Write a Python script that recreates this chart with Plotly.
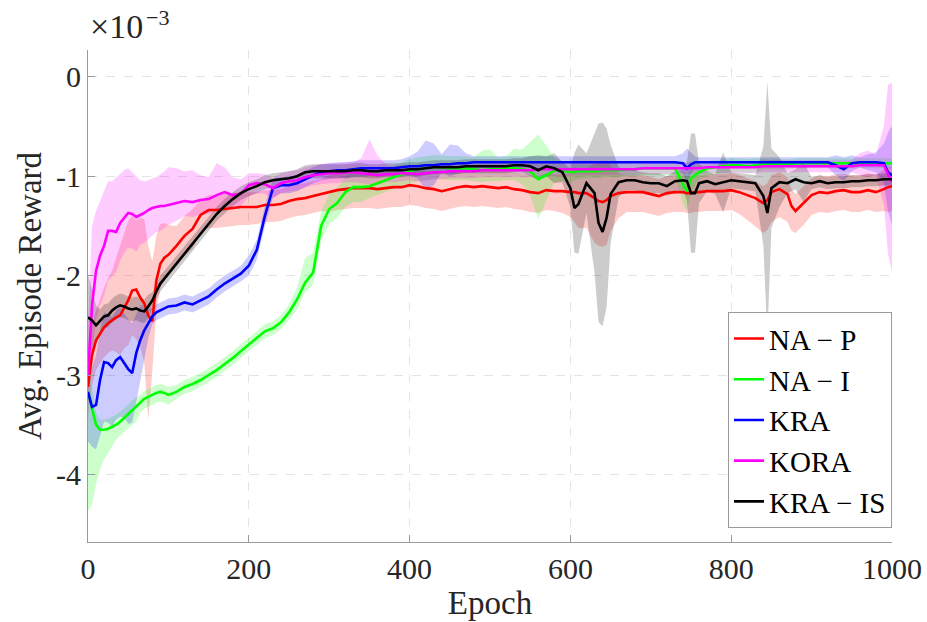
import plotly.graph_objects as go

# ---------------- data (rewards in units of 1e-3) ----------------
epochs = ([0, 5, 10, 15, 20, 25, 30, 35, 40, 45, 50, 55, 60, 65, 70, 75, 80, 85, 90, 95, 100]
          + [110, 120, 130, 140, 150, 160, 170, 180, 190, 200, 210, 220, 230, 240, 250, 260, 270, 280, 290, 300,
             310, 320, 330, 340, 350, 360, 370, 380, 390, 400, 410, 420, 430, 440, 450, 460, 470, 480, 490, 500,
             510, 520, 530, 540, 550, 560, 570, 580, 590, 600]
          + [605, 610, 620, 630, 635, 640, 645, 650, 660, 670, 680, 690, 700, 710, 720, 730, 740, 745, 750, 755,
             760, 770, 780, 790, 800, 810, 820, 830, 840, 845, 850, 860, 870, 875, 880, 890, 900, 910, 920, 930,
             940, 950, 960, 970, 980, 990, 995, 1000])

# NA - P
na_p = ([-3.12, -2.80, -2.65, -2.58, -2.52, -2.48, -2.45, -2.42, -2.40, -2.33, -2.25, -2.15, -2.14, -2.22, -2.28,
         -2.40, -2.46, -2.05, -1.88, -1.82, -1.79]
        + [-1.70, -1.60, -1.53, -1.39, -1.34, -1.34, -1.33, -1.32, -1.31, -1.31, -1.31, -1.29, -1.29, -1.28, -1.25,
           -1.23, -1.22, -1.20, -1.18, -1.16, -1.14, -1.13, -1.12, -1.12, -1.12, -1.13, -1.12, -1.11, -1.11, -1.09,
           -1.10, -1.12, -1.13, -1.15, -1.13, -1.11, -1.10, -1.11, -1.10, -1.11, -1.12, -1.11, -1.13, -1.14, -1.16,
           -1.17, -1.14, -1.15, -1.15, -1.16]
        + [-1.16, -1.17, -1.17, -1.22, -1.25, -1.26, -1.24, -1.20, -1.17, -1.16, -1.16, -1.16, -1.18, -1.20, -1.17,
           -1.16, -1.16, -1.17, -1.17, -1.16, -1.16, -1.15, -1.15, -1.15, -1.14, -1.16, -1.19, -1.22, -1.27, -1.24,
           -1.16, -1.13, -1.18, -1.30, -1.35, -1.27, -1.19, -1.16, -1.17, -1.15, -1.14, -1.16, -1.16, -1.14, -1.16,
           -1.13, -1.11, -1.10])
na_p_up = ([0.25, 0.30, 0.30, 0.35, 0.40, 0.45, 0.50, 0.60, 0.70, 0.75, 0.80, 0.75, 0.70, 0.80, 0.85, 0.70, 0.60,
            0.45, 0.40, 0.35, 0.30]
           + [0.20, 0.20, 0.20, 0.15, 0.15, 0.15, 0.15, 0.15, 0.15, 0.15, 0.15, 0.15, 0.15, 0.15, 0.15, 0.15, 0.15,
              0.15, 0.15, 0.17, 0.17, 0.17, 0.17, 0.17, 0.17, 0.17, 0.17, 0.17, 0.17, 0.17, 0.17, 0.17, 0.17, 0.17,
              0.17, 0.17, 0.17, 0.17, 0.17, 0.17, 0.17, 0.17, 0.17, 0.17, 0.17, 0.17, 0.17, 0.17, 0.17, 0.20]
           + [0.25, 0.25, 0.25, 0.35, 0.40, 0.40, 0.40, 0.30, 0.20, 0.17, 0.17, 0.17, 0.17, 0.17, 0.17, 0.17, 0.17,
              0.17, 0.17, 0.17, 0.17, 0.17, 0.17, 0.17, 0.17, 0.17, 0.17, 0.17, 0.17, 0.17, 0.17, 0.17, 0.17, 0.17,
              0.17, 0.17, 0.17, 0.17, 0.17, 0.17, 0.17, 0.17, 0.17, 0.17, 0.17, 0.20, 0.20, 0.20])
na_p_dn = ([0.30, 0.30, 0.30, 0.30, 0.30, 0.30, 0.30, 0.35, 0.40, 0.40, 0.45, 0.45, 0.50, 0.50, 0.60, 1.05, 0.50,
            0.30, 0.25, 0.20, 0.20]
           + [0.20, 0.20, 0.20, 0.18, 0.18, 0.18, 0.18, 0.18, 0.18, 0.18, 0.17, 0.17, 0.17, 0.17, 0.17, 0.17, 0.17,
              0.17, 0.17, 0.20, 0.20, 0.20, 0.20, 0.20, 0.20, 0.20, 0.20, 0.20, 0.20, 0.20, 0.20, 0.20, 0.20, 0.20,
              0.20, 0.20, 0.20, 0.20, 0.20, 0.20, 0.20, 0.20, 0.20, 0.20, 0.20, 0.20, 0.20, 0.20, 0.22, 0.25]
           + [0.30, 0.35, 0.35, 0.45, 0.45, 0.45, 0.45, 0.35, 0.25, 0.20, 0.20, 0.20, 0.20, 0.20, 0.20, 0.20, 0.20,
              0.20, 0.20, 0.20, 0.20, 0.20, 0.20, 0.20, 0.20, 0.22, 0.25, 0.28, 0.30, 0.30, 0.30, 0.28, 0.28, 0.25,
              0.22, 0.22, 0.20, 0.20, 0.20, 0.20, 0.20, 0.20, 0.20, 0.20, 0.20, 0.22, 0.25, 0.25])

# NA - I
na_i = ([-3.17, -3.35, -3.50, -3.55, -3.55, -3.54, -3.52, -3.50, -3.47, -3.43, -3.39, -3.35, -3.32, -3.28, -3.24,
         -3.22, -3.20, -3.18, -3.17, -3.18, -3.20]
        + [-3.17, -3.12, -3.09, -3.05, -3.00, -2.95, -2.89, -2.83, -2.76, -2.69, -2.63, -2.56, -2.53, -2.47, -2.37,
           -2.24, -2.07, -1.97, -1.50, -1.33, -1.27, -1.16, -1.11, -1.11, -1.10, -1.07, -1.04, -1.01, -0.98, -0.95,
           -0.93, -0.92, -0.91, -0.91, -0.92, -0.92, -0.92, -0.93, -0.94, -0.93, -0.93, -0.92, -0.92, -0.93, -0.95,
           -1.03, -0.99, -0.94, -0.95, -0.96]
        + [-0.96, -0.95, -0.95, -0.95, -0.95, -0.94, -0.94, -0.94, -0.94, -0.93, -0.93, -0.92, -0.92, -0.92, -0.92,
           -0.92, -1.08, -1.15, -1.02, -0.99, -0.96, -0.92, -0.91, -0.90, -0.89, -0.89, -0.90, -0.89, -0.88, -0.88,
           -0.88, -0.88, -0.88, -0.88, -0.87, -0.87, -0.87, -0.87, -0.87, -0.87, -0.87, -0.87, -0.87, -0.87, -0.87,
           -0.87, -0.87, -0.87])
na_i_up = ([0.30, 0.20, 0.12, 0.10, 0.10, 0.10, 0.10, 0.10, 0.10, 0.10, 0.10, 0.10, 0.10, 0.08, 0.08, 0.08, 0.08,
            0.08, 0.08, 0.08, 0.08]
           + [0.07, 0.07, 0.07, 0.07, 0.07, 0.07, 0.07, 0.07, 0.07, 0.07, 0.07, 0.07, 0.07, 0.07, 0.08, 0.12, 0.25,
              0.20, 0.15, 0.15, 0.15, 0.15, 0.15, 0.15, 0.12, 0.12, 0.12, 0.12, 0.12, 0.12, 0.12, 0.12, 0.12, 0.12,
              0.12, 0.12, 0.12, 0.12, 0.20, 0.20, 0.12, 0.12, 0.20, 0.20, 0.30, 0.45, 0.30, 0.12, 0.10, 0.10]
           + [0.08, 0.08, 0.07, 0.07, 0.07, 0.07, 0.07, 0.07, 0.07, 0.07, 0.07, 0.07, 0.07, 0.07, 0.07, 0.07, 0.15,
              0.15, 0.15, 0.10, 0.07, 0.07, 0.07, 0.07, 0.07, 0.07, 0.07, 0.07, 0.05, 0.05, 0.05, 0.05, 0.05, 0.05,
              0.05, 0.05, 0.05, 0.05, 0.05, 0.05, 0.05, 0.05, 0.05, 0.05, 0.05, 0.05, 0.05, 0.05])
na_i_dn = ([1.20, 0.95, 0.60, 0.40, 0.30, 0.25, 0.20, 0.15, 0.15, 0.15, 0.15, 0.15, 0.15, 0.10, 0.10, 0.10, 0.10,
            0.10, 0.10, 0.10, 0.10]
           + [0.07, 0.07, 0.07, 0.07, 0.07, 0.07, 0.07, 0.07, 0.07, 0.07, 0.07, 0.07, 0.07, 0.07, 0.08, 0.10, 0.10,
              0.12, 0.15, 0.15, 0.15, 0.15, 0.15, 0.15, 0.12, 0.12, 0.12, 0.12, 0.12, 0.12, 0.12, 0.12, 0.12, 0.12,
              0.12, 0.12, 0.12, 0.12, 0.12, 0.12, 0.12, 0.12, 0.12, 0.15, 0.25, 0.40, 0.25, 0.12, 0.10, 0.10]
           + [0.08, 0.08, 0.07, 0.07, 0.07, 0.07, 0.07, 0.07, 0.07, 0.07, 0.07, 0.07, 0.07, 0.07, 0.07, 0.07, 0.20,
              0.20, 0.15, 0.10, 0.07, 0.07, 0.07, 0.07, 0.07, 0.07, 0.07, 0.07, 0.05, 0.05, 0.05, 0.05, 0.05, 0.05,
              0.05, 0.05, 0.05, 0.05, 0.05, 0.05, 0.05, 0.05, 0.05, 0.05, 0.05, 0.05, 0.05, 0.05])

# KRA
kra = ([-3.17, -3.32, -3.30, -3.05, -2.87, -2.88, -2.92, -2.85, -2.82, -2.88, -2.94, -2.98, -2.78, -2.65, -2.55,
        -2.48, -2.41, -2.37, -2.35, -2.33, -2.31]
       + [-2.30, -2.27, -2.29, -2.25, -2.21, -2.14, -2.08, -2.03, -1.98, -1.90, -1.74, -1.40, -1.12, -1.09, -1.09,
          -1.07, -1.03, -0.99, -0.96, -0.95, -0.94, -0.94, -0.93, -0.92, -0.92, -0.92, -0.92, -0.92, -0.91, -0.90,
          -0.90, -0.89, -0.89, -0.88, -0.88, -0.87, -0.87, -0.86, -0.86, -0.86, -0.86, -0.86, -0.86, -0.86, -0.86,
          -0.86, -0.86, -0.86, -0.86, -0.86]
       + [-0.86, -0.86, -0.86, -0.86, -0.86, -0.86, -0.86, -0.86, -0.86, -0.86, -0.86, -0.86, -0.86, -0.86, -0.86,
          -0.86, -0.87, -0.92, -0.88, -0.86, -0.86, -0.86, -0.86, -0.86, -0.86, -0.86, -0.86, -0.86, -0.86, -0.86,
          -0.86, -0.86, -0.86, -0.86, -0.86, -0.86, -0.86, -0.86, -0.86, -0.89, -0.93, -0.87, -0.86, -0.86, -0.86,
          -0.87, -0.96, -0.99])
kra_up = ([0.20, 0.40, 0.50, 0.50, 0.50, 0.50, 0.50, 0.50, 0.50, 0.50, 0.50, 0.50, 0.40, 0.35, 0.25, 0.15, 0.08,
           0.08, 0.08, 0.08, 0.08]
          + [0.08, 0.08, 0.08, 0.08, 0.08, 0.08, 0.08, 0.08, 0.08, 0.10, 0.10, 0.10, 0.10, 0.08, 0.08, 0.08, 0.08,
             0.08, 0.08, 0.08, 0.08, 0.08, 0.08, 0.08, 0.08, 0.08, 0.08, 0.08, 0.08, 0.10, 0.15, 0.25, 0.22, 0.10,
             0.20, 0.18, 0.10, 0.06, 0.06, 0.06, 0.06, 0.06, 0.06, 0.06, 0.06, 0.06, 0.06, 0.06, 0.06, 0.06]
          + [0.06, 0.06, 0.06, 0.06, 0.06, 0.06, 0.06, 0.06, 0.06, 0.06, 0.06, 0.06, 0.06, 0.06, 0.06, 0.06, 0.10,
             0.20, 0.12, 0.06, 0.05, 0.05, 0.05, 0.05, 0.05, 0.05, 0.05, 0.05, 0.05, 0.05, 0.05, 0.05, 0.05, 0.05,
             0.05, 0.05, 0.05, 0.05, 0.05, 0.10, 0.12, 0.08, 0.05, 0.08, 0.10, 0.20, 0.40, 0.50])
kra_dn = ([0.50, 0.40, 0.45, 0.55, 0.60, 0.60, 0.60, 0.60, 0.60, 0.55, 0.55, 0.50, 0.50, 0.40, 0.30, 0.15, 0.08,
           0.08, 0.08, 0.08, 0.08]
          + [0.08, 0.08, 0.08, 0.08, 0.08, 0.08, 0.08, 0.08, 0.08, 0.10, 0.10, 0.10, 0.10, 0.08, 0.08, 0.08, 0.08,
             0.08, 0.08, 0.08, 0.08, 0.08, 0.08, 0.08, 0.08, 0.08, 0.08, 0.08, 0.08, 0.10, 0.12, 0.25, 0.20, 0.08,
             0.12, 0.10, 0.08, 0.06, 0.06, 0.06, 0.06, 0.06, 0.06, 0.06, 0.06, 0.06, 0.06, 0.06, 0.06, 0.06]
          + [0.06, 0.06, 0.06, 0.06, 0.06, 0.06, 0.06, 0.06, 0.06, 0.06, 0.06, 0.06, 0.06, 0.06, 0.06, 0.06, 0.10,
             0.15, 0.10, 0.06, 0.05, 0.05, 0.05, 0.05, 0.05, 0.05, 0.05, 0.05, 0.05, 0.05, 0.05, 0.05, 0.05, 0.05,
             0.05, 0.05, 0.05, 0.05, 0.05, 0.10, 0.12, 0.08, 0.05, 0.08, 0.10, 0.20, 0.40, 0.50])

# KORA
kora = ([-3.00, -2.30, -1.95, -1.80, -1.70, -1.55, -1.55, -1.56, -1.47, -1.42, -1.37, -1.38, -1.41, -1.39, -1.37,
         -1.34, -1.32, -1.31, -1.30, -1.30, -1.29]
        + [-1.27, -1.25, -1.26, -1.24, -1.23, -1.19, -1.16, -1.19, -1.18, -1.09, -1.07, -1.08, -1.12, -1.07, -1.05,
           -1.04, -1.01, -0.99, -0.98, -0.97, -0.97, -0.96, -0.96, -0.97, -0.98, -0.99, -0.98, -0.98, -0.97, -0.97,
           -0.98, -0.97, -0.96, -0.96, -0.95, -0.95, -0.95, -0.95, -0.94, -0.94, -0.94, -0.94, -0.94, -0.94, -0.94,
           -0.93, -0.93, -0.93, -0.93, -0.93]
        + [-0.93, -0.93, -0.93, -0.93, -0.93, -0.93, -0.93, -0.93, -0.93, -0.93, -0.93, -0.92, -0.92, -0.92, -0.92,
           -0.92, -0.92, -0.92, -0.92, -0.92, -0.92, -0.91, -0.91, -0.91, -0.91, -0.91, -0.91, -0.91, -0.90, -0.90,
           -0.90, -0.90, -0.90, -0.90, -0.90, -0.90, -0.90, -0.90, -0.90, -0.90, -0.90, -0.90, -0.89, -0.89, -0.89,
           -0.89, -0.98, -1.06])
kora_up = ([0.50, 0.80, 0.60, 0.55, 0.55, 0.50, 0.50, 0.55, 0.50, 0.48, 0.45, 0.42, 0.40, 0.35, 0.32, 0.30, 0.30,
            0.30, 0.32, 0.35, 0.38]
           + [0.35, 0.30, 0.32, 0.25, 0.22, 0.32, 0.25, 0.18, 0.15, 0.12, 0.10, 0.10, 0.10, 0.10, 0.10, 0.10, 0.10,
              0.10, 0.10, 0.10, 0.10, 0.10, 0.10, 0.15, 0.35, 0.20, 0.10, 0.08, 0.08, 0.07, 0.07, 0.07, 0.07, 0.07,
              0.07, 0.07, 0.07, 0.07, 0.07, 0.07, 0.07, 0.07, 0.07, 0.07, 0.07, 0.07, 0.07, 0.07, 0.07, 0.07]
           + [0.06, 0.06, 0.06, 0.06, 0.06, 0.06, 0.06, 0.06, 0.06, 0.06, 0.06, 0.06, 0.06, 0.06, 0.06, 0.06, 0.06,
              0.06, 0.06, 0.06, 0.06, 0.06, 0.06, 0.06, 0.06, 0.06, 0.06, 0.06, 0.06, 0.06, 0.06, 0.06, 0.06, 0.06,
              0.06, 0.06, 0.06, 0.06, 0.06, 0.06, 0.06, 0.06, 0.12, 0.15, 0.10, 0.40, 0.90, 1.00])
kora_dn = ([0.30, 0.50, 0.50, 0.50, 0.50, 0.50, 0.45, 0.40, 0.38, 0.35, 0.35, 0.35, 0.35, 0.30, 0.30, 0.30, 0.28,
            0.25, 0.25, 0.22, 0.20]
           + [0.18, 0.15, 0.15, 0.15, 0.15, 0.15, 0.15, 0.15, 0.12, 0.12, 0.10, 0.10, 0.10, 0.10, 0.10, 0.10, 0.10,
              0.10, 0.10, 0.10, 0.10, 0.10, 0.10, 0.10, 0.10, 0.10, 0.08, 0.08, 0.08, 0.07, 0.07, 0.07, 0.07, 0.07,
              0.07, 0.07, 0.07, 0.07, 0.07, 0.07, 0.07, 0.07, 0.07, 0.07, 0.07, 0.07, 0.07, 0.07, 0.07, 0.07]
           + [0.06, 0.06, 0.06, 0.06, 0.06, 0.06, 0.06, 0.06, 0.06, 0.06, 0.06, 0.06, 0.06, 0.06, 0.06, 0.06, 0.06,
              0.06, 0.06, 0.06, 0.06, 0.06, 0.06, 0.06, 0.06, 0.06, 0.06, 0.06, 0.06, 0.06, 0.06, 0.06, 0.06, 0.06,
              0.06, 0.06, 0.06, 0.06, 0.06, 0.06, 0.06, 0.06, 0.10, 0.12, 0.10, 0.40, 0.80, 0.90])

# KRA - IS
kra_is = ([-2.42, -2.45, -2.50, -2.46, -2.41, -2.40, -2.35, -2.32, -2.30, -2.31, -2.33, -2.34, -2.33, -2.35, -2.36,
           -2.31, -2.25, -2.16, -2.08, -2.03, -1.98]
          + [-1.88, -1.78, -1.68, -1.58, -1.48, -1.38, -1.30, -1.23, -1.17, -1.13, -1.10, -1.06, -1.04, -1.03, -1.02,
             -1.00, -0.96, -0.95, -0.95, -0.95, -0.95, -0.95, -0.94, -0.94, -0.95, -0.95, -0.94, -0.94, -0.94, -0.93,
             -0.93, -0.92, -0.91, -0.91, -0.91, -0.91, -0.90, -0.90, -0.90, -0.90, -0.90, -0.90, -0.89, -0.89, -0.90,
             -0.94, -0.90, -0.92, -0.96, -1.12]
          + [-1.32, -1.28, -1.07, -1.17, -1.47, -1.56, -1.42, -1.18, -1.06, -1.04, -1.04, -1.06, -1.07, -1.07, -1.10,
             -1.05, -1.04, -1.05, -1.17, -1.17, -1.07, -1.05, -1.08, -1.06, -1.04, -1.05, -1.06, -1.07, -1.20, -1.37,
             -1.12, -1.06, -1.07, -1.05, -1.03, -1.06, -1.07, -1.05, -1.07, -1.06, -1.06, -1.05, -1.05, -1.04, -1.04,
             -1.03, -1.03, -1.03])
kra_is_up = ([0.45, 0.30, 0.20, 0.12, 0.12, 0.12, 0.12, 0.12, 0.12, 0.12, 0.12, 0.12, 0.12, 0.12, 0.12, 0.12, 0.08,
              0.08, 0.08, 0.08, 0.08]
             + [0.07, 0.07, 0.07, 0.07, 0.07, 0.07, 0.07, 0.07, 0.07, 0.07, 0.07, 0.07, 0.07, 0.07, 0.07, 0.07, 0.07,
                0.07, 0.07, 0.07, 0.07, 0.07, 0.07, 0.07, 0.07, 0.07, 0.07, 0.07, 0.07, 0.07, 0.07, 0.07, 0.07, 0.07,
                0.07, 0.07, 0.07, 0.07, 0.07, 0.07, 0.07, 0.07, 0.07, 0.07, 0.10, 0.15, 0.10, 0.15, 0.10, 0.20]
             + [0.55, 0.60, 0.30, 0.60, 1.00, 1.10, 0.90, 0.50, 0.15, 0.10, 0.10, 0.10, 0.10, 0.10, 0.10, 0.10, 0.10,
                0.20, 0.60, 0.60, 0.20, 0.10, 0.10, 0.30, 0.08, 0.08, 0.08, 0.08, 0.50, 1.32, 0.40, 0.25, 0.10, 0.10,
                0.10, 0.20, 0.06, 0.06, 0.06, 0.06, 0.06, 0.06, 0.06, 0.06, 0.06, 0.06, 0.06, 0.06])
kra_is_dn = ([0.60, 0.30, 0.20, 0.12, 0.12, 0.12, 0.12, 0.12, 0.12, 0.12, 0.12, 0.12, 0.12, 0.12, 0.12, 0.12, 0.08,
              0.08, 0.08, 0.08, 0.08]
             + [0.07, 0.07, 0.07, 0.07, 0.07, 0.07, 0.07, 0.07, 0.07, 0.07, 0.07, 0.07, 0.07, 0.07, 0.07, 0.07, 0.07,
                0.07, 0.07, 0.07, 0.07, 0.07, 0.07, 0.07, 0.07, 0.07, 0.07, 0.07, 0.07, 0.07, 0.07, 0.07, 0.07, 0.07,
                0.07, 0.07, 0.07, 0.07, 0.07, 0.07, 0.07, 0.07, 0.07, 0.07, 0.10, 0.10, 0.10, 0.15, 0.10, 0.20]
             + [0.45, 0.50, 0.30, 0.80, 1.00, 0.95, 0.90, 0.50, 0.15, 0.10, 0.10, 0.10, 0.10, 0.10, 0.10, 0.10, 0.10,
                0.20, 0.60, 0.60, 0.20, 0.10, 0.10, 0.30, 0.08, 0.08, 0.08, 0.08, 0.50, 1.25, 0.40, 0.25, 0.10, 0.10,
                0.10, 0.20, 0.06, 0.06, 0.06, 0.06, 0.06, 0.06, 0.06, 0.06, 0.06, 0.06, 0.06, 0.06])

series = [
    ("NA − P", na_p, na_p_up, na_p_dn, (255, 0, 0)),
    ("NA − I", na_i, na_i_up, na_i_dn, (0, 255, 0)),
    ("KRA", kra, kra_up, kra_dn, (0, 0, 255)),
    ("KORA", kora, kora_up, kora_dn, (255, 0, 255)),
    ("KRA − IS", kra_is, kra_is_up, kra_is_dn, (0, 0, 0)),
]

x_ticks = [0, 200, 400, 600, 800, 1000]
y_ticks = [-4, -3, -2, -1, 0]
y_ticktext = ["-4", "-3", "-2", "-1", "0"]

FONT = "Liberation Serif"
TXT = "#262626"

fig = go.Figure()

# shaded bands
for name, m, up, dn, (r, g, b) in series:
    hi = [v + u for v, u in zip(m, up)]
    lo = [v - d for v, d in zip(m, dn)]
    fig.add_trace(go.Scatter(
        x=epochs + epochs[::-1], y=hi + lo[::-1],
        fill="toself", fillcolor=f"rgba({r},{g},{b},0.2)",
        line=dict(width=0), mode="lines", hoverinfo="skip", showlegend=False))

# mean lines
for name, m, up, dn, (r, g, b) in series:
    fig.add_trace(go.Scatter(
        x=epochs, y=m, mode="lines", name=name,
        line=dict(color=f"rgb({r},{g},{b})", width=2.6)))

axis_common = dict(
    showline=True, linecolor="#9a9a9a", linewidth=1,
    ticks="inside", ticklen=7, tickcolor="#9a9a9a",
    showgrid=True, gridcolor="#e4e4e4", griddash="dash", gridwidth=1,
    zeroline=False, mirror=False, automargin=False,
    tickfont=dict(family=FONT, size=30, color=TXT),
)

fig.update_layout(
    width=927, height=622,
    margin=dict(l=88, r=35, t=50, b=80),
    paper_bgcolor="white", plot_bgcolor="white",
    font=dict(family=FONT, color=TXT),
    xaxis=dict(range=[0, 1000], tickvals=x_ticks, **axis_common,
               title=dict(text="Epoch", font=dict(family=FONT, size=33, color=TXT), standoff=6)),
    yaxis=dict(range=[-4.68, 0.27], tickvals=y_ticks, ticktext=y_ticktext, **axis_common,
               title=dict(text="Avg. Episode Reward", font=dict(family=FONT, size=33, color=TXT), standoff=4)),
    legend=dict(x=1.0, xanchor="right", y=0.028, yanchor="bottom",
                bgcolor="white", bordercolor="#9a9a9a", borderwidth=1,
                font=dict(family=FONT, size=29, color="#000000"),
                itemwidth=30, tracegroupgap=0),
    annotations=[
        dict(text="×10", xref="paper", yref="paper", x=0.0, y=1.0,
             xanchor="left", yanchor="bottom", yshift=3, showarrow=False,
             font=dict(family=FONT, size=34, color=TXT)),
        dict(text="−3", xref="paper", yref="paper", x=(144 - 88) / 804, y=1.0,
             xanchor="left", yanchor="bottom", yshift=18, showarrow=False,
             font=dict(family=FONT, size=22, color=TXT)),
    ],
)

fig.write_html("out.html")
